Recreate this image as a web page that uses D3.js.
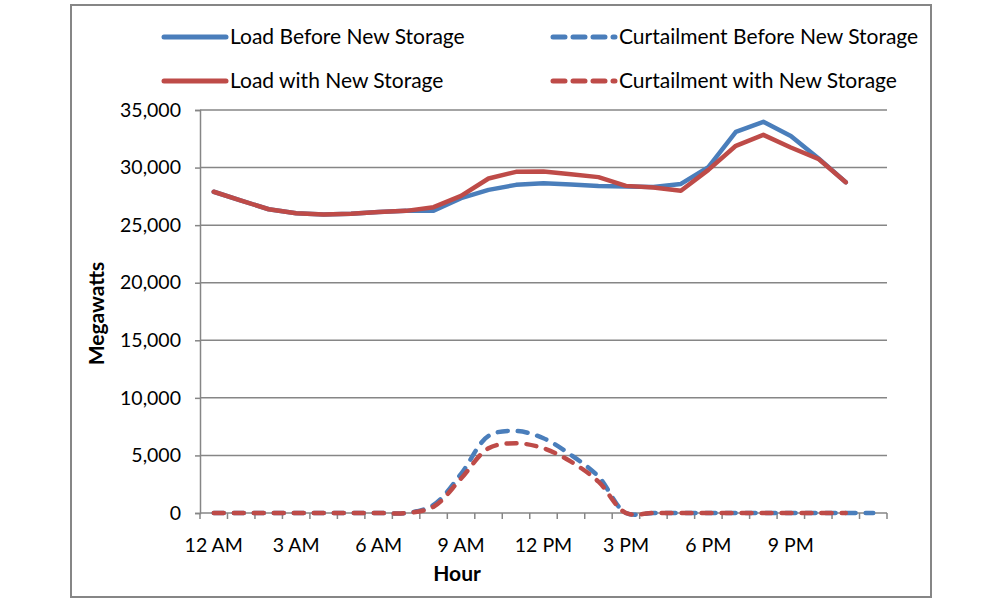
<!DOCTYPE html>
<html>
<head>
<meta charset="utf-8">
<script src="https://cdn.jsdelivr.net/npm/d3@7.9.0/dist/d3.min.js"></script>
<style>
  body { margin: 0; background: #fff; }
  svg { display: block; font-family: Lato, "Open Sans", sans-serif; }
</style>
</head>
<body>
<svg id="chart" width="1000" height="604"></svg>
<script>
// Hour categories (25 slots, last one has only blue curtailment)
const hours = d3.range(25);
const tickLabels = ['12 AM', '3 AM', '6 AM', '9 AM', '12 PM', '3 PM', '6 PM', '9 PM'];
const labelIdx = [0, 3, 6, 9, 12, 15, 18, 21];

const loadBefore = [27900, 27130, 26380, 26040, 25920, 25980, 26150, 26240, 26260, 27340,
  28060, 28500, 28640, 28530, 28410, 28350, 28320, 28580, 30030, 33100, 33970, 32750, 30820, 28730];
const loadWith = [27900, 27130, 26380, 26040, 25920, 25980, 26150, 26240, 26560, 27540,
  29050, 29630, 29650, 29430, 29170, 28410, 28260, 27980, 29800, 31890, 32840, 31740, 30760, 28730];
const curtBefore = [0, 0, 0, 0, 0, 0, 0, 0, 700, 3400, 6690, 7120, 6490, 5040, 3160, 0,
  0, 0, 0, 0, 0, 0, 0, 0, 0];
const curtWith = [0, 0, 0, 0, 0, 0, 0, 0, 550, 3000, 5620, 6050, 5620, 4460, 2720, 0,
  0, 0, 0, 0, 0, 0, 0, 0];

const yTicks = [0, 5000, 10000, 15000, 20000, 25000, 30000, 35000];

const blue = '#4A7EBB';
const red = '#BE4B48';
const grid = '#868686';

const svg = d3.select('#chart');

// Outer border
svg.append('rect')
  .attr('x', 71).attr('y', 5).attr('width', 860).attr('height', 592)
  .attr('fill', 'none').attr('stroke', grid).attr('stroke-width', 2);

const margin = { left: 200, right: 887, top: 110, bottom: 513 };

const x = d3.scaleBand().domain(hours).range([margin.left, margin.right]);
const y = d3.scaleLinear().domain([0, 35000]).range([margin.bottom, margin.top]);
const cx = i => x(i) + x.bandwidth() / 2;

// Gridlines
svg.append('g')
  .selectAll('line')
  .data(yTicks.filter(d => d > 0))
  .join('line')
  .attr('x1', margin.left).attr('x2', margin.right)
  .attr('y1', d => y(d)).attr('y2', d => y(d))
  .attr('stroke', grid).attr('stroke-width', 1.5);

// Y axis
const yAxis = svg.append('g')
  .attr('transform', `translate(${margin.left},0)`)
  .call(d3.axisLeft(y).tickValues(yTicks).tickSize(5).tickPadding(14).tickFormat(d3.format(',')));
yAxis.select('.domain').attr('stroke', grid).attr('stroke-width', 1.5);
yAxis.selectAll('.tick line').attr('stroke', grid).attr('stroke-width', 1.5);
yAxis.selectAll('text').attr('font-size', 19.5).attr('fill', '#000')
  .attr('font-family', 'Lato, sans-serif');

// X axis: tick marks at category boundaries
const xg = svg.append('g');
xg.append('line')
  .attr('x1', margin.left).attr('x2', margin.right)
  .attr('y1', margin.bottom).attr('y2', margin.bottom)
  .attr('stroke', grid).attr('stroke-width', 1.5);
xg.selectAll('.xt')
  .data(d3.range(26))
  .join('line')
  .attr('class', 'xt')
  .attr('x1', i => margin.left + i * x.step()).attr('x2', i => margin.left + i * x.step())
  .attr('y1', margin.bottom).attr('y2', margin.bottom + 6)
  .attr('stroke', grid).attr('stroke-width', 1.5);
xg.selectAll('text')
  .data(labelIdx)
  .join('text')
  .attr('x', i => cx(i))
  .attr('y', 552)
  .attr('text-anchor', 'middle')
  .attr('font-size', 19.5)
  .text((d, i) => tickLabels[i]);

// Axis titles
svg.append('text')
  .attr('x', cx(9) - 4).attr('y', 581)
  .attr('text-anchor', 'middle')
  .attr('font-size', 21).attr('font-weight', 'bold')
  .text('Hour');
svg.append('text')
  .attr('transform', `translate(104,${(margin.top + margin.bottom) / 2 + 2}) rotate(-90)`)
  .attr('text-anchor', 'middle')
  .attr('font-size', 21).attr('font-weight', 'bold')
  .text('Megawatts');

// Lines
const straight = d3.line().x((d, i) => cx(i)).y(d => y(d));
const smooth = d3.line().x((d, i) => cx(i)).y(d => y(d)).curve(d3.curveCatmullRom.alpha(0.5));

function drawLine(data, gen, color, dashed) {
  const p = svg.append('path')
    .datum(data)
    .attr('d', gen)
    .attr('fill', 'none')
    .attr('stroke', color)
    .attr('stroke-width', 4.5)
    .attr('stroke-linejoin', 'round')
    .attr('stroke-linecap', 'round');
  if (dashed) p.attr('stroke-dasharray', '10,10');
}

drawLine(curtBefore, smooth, blue, true);
drawLine(curtWith, smooth, red, true);
drawLine(loadBefore, straight, blue, false);
drawLine(loadWith, straight, red, false);

// Legend
const legendItems = [
  { label: 'Load Before New Storage', color: blue, dashed: false, x: 164, y: 37 },
  { label: 'Load with New Storage', color: red, dashed: false, x: 164, y: 81 },
  { label: 'Curtailment Before New Storage', color: blue, dashed: true, x: 553, y: 37 },
  { label: 'Curtailment with New Storage', color: red, dashed: true, x: 553, y: 81 }
];
const lg = svg.append('g');
legendItems.forEach(d => {
  const l = lg.append('line')
    .attr('x1', d.x).attr('x2', d.x + 62)
    .attr('y1', d.y).attr('y2', d.y)
    .attr('stroke', d.color).attr('stroke-width', 5)
    .attr('stroke-linecap', 'round');
  if (d.dashed) l.attr('stroke-dasharray', '12,8');
  lg.append('text')
    .attr('x', d.x + 66).attr('y', d.y + 7)
    .attr('font-size', 21)
    .text(d.label);
});
</script>
</body>
</html>
